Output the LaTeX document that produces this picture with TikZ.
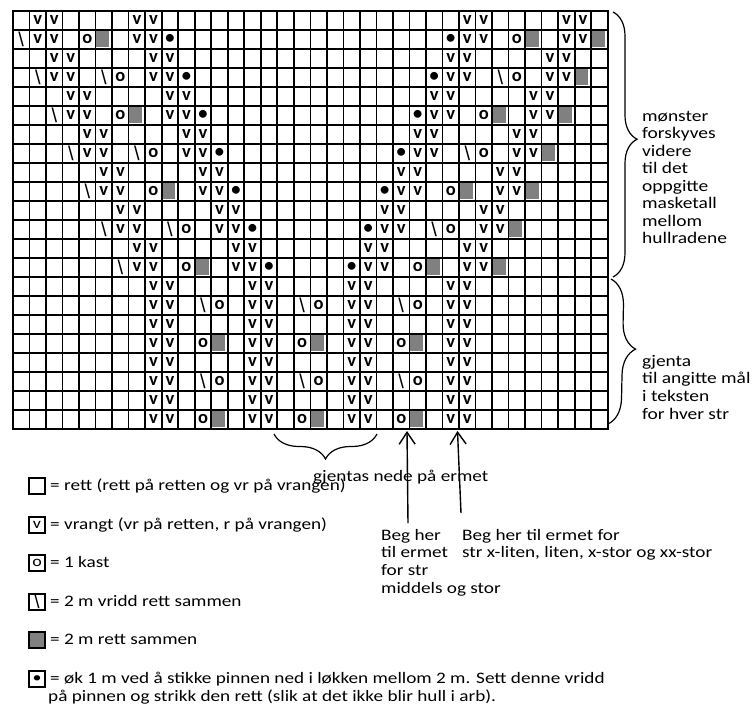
\documentclass[tikz,border=0pt]{standalone}
\usepackage{fontspec}
\setmainfont{Carlito}[FakeStretch=1.2]
\newfontfamily\chartfont{Carlito}
\newfontfamily\slashfont{Liberation Sans}
\usetikzlibrary{decorations.pathreplacing, arrows.meta}
\definecolor{cellgray}{RGB}{128,128,128}
\newcommand{\knit}[4]{\pgfmathtruncatemacro{\cc}{#2}\pgfmathtruncatemacro{\rr}{#3}\node[#1] (k\cc-\rr) at (\cc-0.5,\rr-0.5) {#4};}

\begin{document}
\begin{tikzpicture}[x=1pt, y=-1pt,
    gridline/.style={line width=1.7pt, line cap=rect},
    symbol/.style={inner sep=0pt, font=\chartfont\bfseries\fontsize{18.5}{18.5}\selectfont},
    symslash/.style={inner sep=0pt, font=\slashfont\fontsize{20}{20}\selectfont},
    symgray/.style={inner sep=0pt, minimum width=13.5pt, minimum height=16.5pt, fill=cellgray, xshift=-1.2pt},
    note/.style={anchor=base west, inner sep=0pt, font=\fontsize{16}{17}\selectfont},
    sidenote/.style={note, font=\fontsize{16.2}{17}\selectfont},
    bracket/.style={line width=1.2pt, decorate},
    pointer/.style={line width=1.4pt, -{Straight Barb[length=12pt, width=16pt]}},
    legbox/.style={draw, line width=2pt, minimum width=16pt, minimum height=16pt, inner sep=0pt, font=\fontsize{15}{15}\selectfont}]
    \useasboundingbox (0,0) rectangle (756,713);
    \begin{scope}[shift={(13,10.7)}, x=16.52pt, y=-19pt]
        \foreach \k in {0,...,6}{
            \pgfmathtruncatemacro{\ro}{2*\k+1}
            \pgfmathtruncatemacro{\re}{2*\k+2}
            \foreach \c in {2,3,8,9}{
                \knit{symbol}{\c+\k}{\ro}{v}
                \knit{symbol}{\c+\k}{\re}{v}
            }
            \foreach \c in {28,29,34,35}{
                \knit{symbol}{\c-\k}{\ro}{v}
                \knit{symbol}{\c-\k}{\re}{v}
            }
            \knit{symslash}{1+\k}{\re}{\textbackslash}
            \knit{symbol}{10+\k}{\re}{•}
            \knit{symbol}{27-\k}{\re}{•}
            \knit{symgray}{36-\k}{\re}{}
            \ifodd\k\relax
                \knit{symslash}{5+\k}{\re}{\textbackslash}
                \knit{symbol}{6+\k}{\re}{o}
                \knit{symslash}{31-\k}{\re}{\textbackslash}
                \knit{symbol}{32-\k}{\re}{o}
            \else
                \knit{symbol}{5+\k}{\re}{o}
                \knit{symgray}{6+\k}{\re}{}
                \knit{symbol}{31-\k}{\re}{o}
                \knit{symgray}{32-\k}{\re}{}
            \fi
        }
        \foreach \r in {15,...,22}{
            \foreach \c in {9,10,15,16,21,22,27,28}{
                \knit{symbol}{\c}{\r}{v}
            }
        }
        \foreach \r in {16,20}{
            \foreach \c in {12,18,24}{
                \knit{symslash}{\c}{\r}{\textbackslash}
                \knit{symbol}{\c+1}{\r}{o}
            }
        }
        \foreach \r in {18,22}{
            \foreach \c in {12,18,24}{
                \knit{symbol}{\c}{\r}{o}
                \knit{symgray}{\c+1}{\r}{}
            }
        }
        \foreach \i in {0,...,36} \draw[gridline] (\i,0) -- (\i,22);
        \foreach \j in {0,...,22} \draw[gridline] (0,\j) -- (36,\j);
    \end{scope}
    \coordinate (upA) at (613,12);
    \coordinate (upB) at (613,277);
    \coordinate (loA) at (611,279);
    \coordinate (loB) at (608,424);
    \coordinate (repA) at (377,434);
    \coordinate (repB) at (274,434);
    \draw[bracket, decoration={brace, amplitude=24pt, aspect=0.48}] (upA) -- (upB);
    \draw[bracket, decoration={brace, amplitude=26pt, aspect=0.48}] (loA) -- (loB);
    \draw[bracket, decoration={brace, amplitude=25pt, aspect=0.5}] (repA) -- (repB);
    \foreach \t [count=\i] in {mønster, forskyves, videre, til det, oppgitte, masketall, mellom, hullradene}
        \node[sidenote] (shift\i) at (642,121+17.5*\i-17.5) {\t};
    \foreach \t [count=\i] in {gjenta, til angitte mål, i teksten, for hver str}
        \node[sidenote] (rep\i) at (642,366+17.8*\i-17.8) {\t};
    \node[note] (down) at (313,481) {gjentas nede på ermet};
    \coordinate (midS) at (408,523);
    \coordinate (midT) at (407,431);
    \coordinate (allS) at (461,513);
    \coordinate (allT) at (457.5,431);
    \draw[pointer] (midS) -- (midT);
    \draw[pointer] (allS) -- (allT);
    \foreach \t [count=\i] in {Beg her, til ermet, for str, middels og stor}
        \node[note] (mid\i) at (381,540+17.7*\i-17.7) {\t};
    \node[note] (all1) at (462,540) {Beg her til ermet for};
    \node[note] (all2) at (462,557.7) {str x-liten, liten, x-stor og xx-stor};
    \node[legbox] (lg1) at (37,486) {};
    \node[legbox] (lg2) at (37,524.6) {v};
    \node[legbox] (lg3) at (37,563.2) {o};
    \node[legbox, font=\slashfont\fontsize{19}{19}\selectfont] (lg4) at (37,601.8) {\textbackslash};
    \node[legbox, fill=cellgray] (lg5) at (37,640.4) {};
    \node[legbox] (lg6) at (37,679) {•};
    \node[note] (lt1) at (50,490.5) {= rett (rett på retten og vr på vrangen)};
    \node[note] (lt2) at (50,529.1) {= vrangt (vr på retten, r på vrangen)};
    \node[note] (lt3) at (50,567.7) {= 1 kast};
    \node[note] (lt4) at (50,606.3) {= 2 m vridd rett sammen};
    \node[note] (lt5) at (50,644.9) {= 2 m rett sammen};
    \node[note] (lt6) at (50,683.5) {= øk 1 m ved å stikke pinnen ned i løkken mellom 2 m. Sett denne vridd};
    \node[note] (lt7) at (48,701.5) {på pinnen og strikk den rett (slik at det ikke blir hull i arb).};
\end{tikzpicture}
\end{document}
